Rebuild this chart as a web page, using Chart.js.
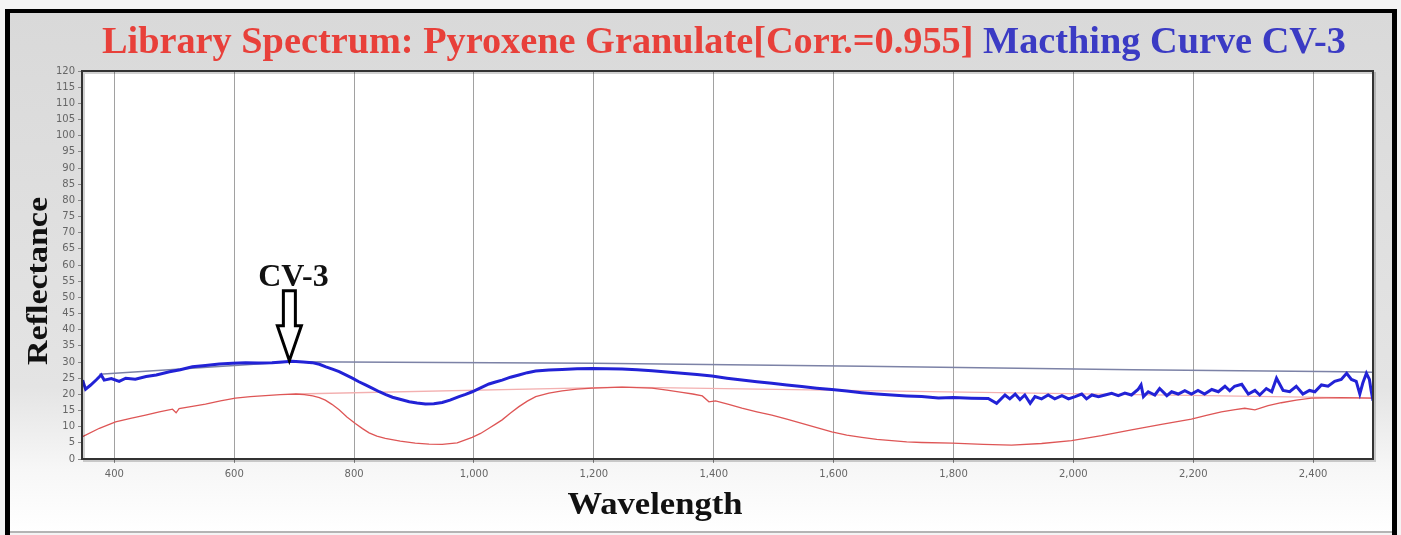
<!DOCTYPE html>
<html>
<head>
<meta charset="utf-8">
<script src="https://cdn.jsdelivr.net/npm/chart.js@4.4.1/dist/chart.umd.min.js"></script>
<style>
  html, body { margin: 0; padding: 0; background: #ffffff; }
  canvas { display: block; }
</style>
</head>
<body>
<canvas id="myChart" width="1401" height="535"></canvas>
<script>
// Matching curve CV-3 (blue, thick)
const matchWl = [
  347, 352, 360, 370, 378, 383, 395, 408, 419, 435,
  453, 470, 492, 510, 530, 552, 575, 597, 619, 640,
  663, 680, 697, 715, 730, 742, 753, 765, 775, 786,
  797, 808, 819, 830, 842, 853, 864, 878, 892, 905,
  919, 933, 947, 960, 975, 986, 997, 1011, 1025, 1036,
  1047, 1061, 1075, 1089, 1103, 1125, 1147, 1172, 1197, 1222,
  1247, 1272, 1297, 1322, 1347, 1372, 1397, 1422, 1447, 1472,
  1497, 1522, 1547, 1572, 1597, 1622, 1647, 1672, 1697, 1722,
  1747, 1775, 1800, 1830, 1858, 1872, 1886, 1894, 1903, 1911,
  1919, 1928, 1936, 1947, 1958, 1969, 1981, 1992, 2003, 2014,
  2022, 2031, 2042, 2053, 2064, 2075, 2086, 2097, 2108, 2113,
  2117, 2125, 2136, 2144, 2156, 2164, 2175, 2186, 2197, 2208,
  2219, 2231, 2242, 2253, 2261, 2269, 2281, 2292, 2303, 2311,
  2322, 2331, 2339, 2350, 2361, 2372, 2383, 2394, 2403, 2414,
  2425, 2436, 2447, 2456, 2464, 2472, 2478, 2483, 2489, 2494,
  2497, 2500
];
const matchRefl = [
  24.4, 21.6, 22.8, 24.5, 26.0, 24.4, 24.9, 24.0, 25.0, 24.7,
  25.5, 26.0, 27.0, 27.6, 28.5, 28.9, 29.4, 29.6, 29.8, 29.7,
  29.8, 30.0, 30.2, 30.0, 29.8, 29.3, 28.5, 27.7, 27.0, 26.0,
  25.0, 23.9, 22.9, 21.9, 20.8, 19.9, 19.1, 18.4, 17.7, 17.3,
  17.0, 17.1, 17.5, 18.2, 19.3, 20.0, 20.8, 22.0, 23.2, 23.8,
  24.4, 25.3, 26.0, 26.7, 27.2, 27.5, 27.7, 27.9, 28.0, 27.9,
  27.8, 27.6, 27.3, 26.9, 26.5, 26.1, 25.7, 25.0, 24.4, 23.9,
  23.4, 22.9, 22.4, 21.9, 21.5, 21.0, 20.5, 20.1, 19.8, 19.5,
  19.3, 18.9, 19.0, 18.8, 18.7, 17.2, 19.8, 18.6, 20.1, 18.4,
  19.8, 17.2, 19.3, 18.6, 19.8, 18.6, 19.6, 18.6, 19.3, 20.1,
  18.6, 19.8, 19.3, 19.8, 20.3, 19.6, 20.4, 19.8, 21.5, 22.9,
  19.3, 20.8, 19.8, 21.8, 19.6, 20.8, 20.1, 21.1, 20.1, 21.2,
  20.1, 21.5, 20.8, 22.5, 21.1, 22.5, 23.1, 20.1, 21.2, 19.8,
  21.8, 20.8, 25.0, 21.2, 20.8, 22.5, 20.1, 21.2, 20.8, 22.9,
  22.5, 24.0, 24.6, 26.5, 24.6, 24.0, 20.1, 23.5, 26.5, 24.6,
  21.0, 18.0
];

// Library spectrum: Pyroxene Granulate (red, thin)
const libWl = [
  347, 375, 402, 427, 452, 475, 497, 503, 508, 530,
  552, 577, 602, 627, 652, 677, 702, 717, 731, 742,
  752, 763, 775, 788, 802, 814, 825, 838, 852, 877,
  902, 925, 947, 972, 997, 1011, 1025, 1036, 1047, 1061,
  1075, 1089, 1103, 1125, 1147, 1172, 1197, 1222, 1247, 1272,
  1297, 1322, 1347, 1365, 1381, 1392, 1403, 1425, 1447, 1472,
  1497, 1522, 1547, 1572, 1597, 1622, 1647, 1672, 1697, 1722,
  1747, 1798, 1850, 1897, 1947, 1997, 2047, 2097, 2147, 2197,
  2222, 2247, 2270, 2286, 2303, 2325, 2347, 2372, 2397, 2422,
  2447, 2472, 2500
];
const libRefl = [
  6.9, 9.5, 11.5, 12.6, 13.6, 14.6, 15.4, 14.3, 15.6, 16.3,
  17.0, 18.0, 18.8, 19.3, 19.6, 19.9, 20.1, 19.9, 19.5, 19.0,
  18.2, 16.9, 15.2, 13.0, 11.0, 9.4, 8.1, 7.1, 6.4, 5.5,
  4.9, 4.6, 4.5, 5.0, 6.7, 7.9, 9.5, 10.8, 12.1, 14.2,
  16.2, 17.9, 19.3, 20.4, 21.1, 21.6, 21.9, 22.1, 22.2, 22.1,
  21.9, 21.3, 20.6, 20.1, 19.5, 17.7, 18.0, 16.9, 15.7, 14.6,
  13.6, 12.3, 11.0, 9.7, 8.4, 7.4, 6.7, 6.1, 5.7, 5.3,
  5.1, 4.9, 4.5, 4.3, 4.8, 5.7, 7.2, 9.0, 10.7, 12.3,
  13.5, 14.6, 15.3, 15.7, 15.2, 16.5, 17.4, 18.2, 18.8, 18.9,
  19.0, 18.9, 18.8
];

// continuum hulls
const matchHullWl = [375, 697, 1200, 1650, 2100, 2456, 2500];
const matchHullRefl = [26.2, 30.1, 29.6, 28.7, 27.6, 27.0, 26.8];
const libHullWl = [702, 1247, 2447, 2500];
const libHullRefl = [20.1, 22.2, 19.0, 18.8];

const xTicks = [400, 600, 800, 1000, 1200, 1400, 1600, 1800, 2000, 2200, 2400];

// CV-3 arrow points at this spot
const cv3Wl = 692;
const cv3Refl = 30.1;

function toPoints(xs, ys) {
  return xs.map((x, i) => ({ x: x, y: ys[i] }));
}

const serif = '"Liberation Serif", "Times New Roman", serif';

const decorations = {
  id: 'decorations',
  beforeDraw(chart) {
    const ctx = chart.ctx;
    const W = chart.width, H = chart.height;
    const a = chart.chartArea;
    ctx.save();
    ctx.fillStyle = '#f4f4f4';
    ctx.fillRect(0, 0, W, H);
    // gray panel fading to white
    const g = ctx.createLinearGradient(0, 12, 0, 532);
    g.addColorStop(0, '#d9d9d9');
    g.addColorStop(0.72, '#e4e4e4');
    g.addColorStop(0.88, '#f7f7f7');
    g.addColorStop(1, '#ffffff');
    ctx.fillStyle = g;
    ctx.fillRect(8, 11, 1386, 521);
    // black frame
    ctx.fillStyle = '#000';
    ctx.fillRect(5, 9, 5, 526);
    ctx.fillRect(5, 9, 1392, 4);
    ctx.fillRect(1392, 9, 5, 526);
    ctx.fillStyle = '#b4b4b4';
    ctx.fillRect(10, 531, 1382, 2);
    // plot area
    ctx.fillStyle = '#ffffff';
    ctx.fillRect(a.left, a.top, a.right - a.left, a.bottom - a.top);
    ctx.restore();
  },
  afterDraw(chart) {
    const ctx = chart.ctx;
    const a = chart.chartArea;
    const xs = chart.scales.x, ys = chart.scales.y;
    ctx.save();

    // plot border with soft shadow
    ctx.strokeStyle = 'rgba(0,0,0,0.18)';
    ctx.lineWidth = 2;
    ctx.strokeRect(a.left + 2, a.top + 2, a.right - a.left, a.bottom - a.top);
    ctx.strokeStyle = '#333';
    ctx.lineWidth = 2;
    ctx.strokeRect(a.left, a.top, a.right - a.left, a.bottom - a.top);

    // two-colour title
    const p1 = 'Library Spectrum: Pyroxene Granulate[Corr.=0.955] ';
    const p2 = 'Macthing Curve CV-3';
    ctx.font = 'bold 38px ' + serif;
    ctx.textBaseline = 'alphabetic';
    ctx.textAlign = 'left';
    const w1 = ctx.measureText(p1).width;
    const w2 = ctx.measureText(p2).width;
    const sx = 1244 / (w1 + w2);
    ctx.save();
    ctx.translate(102, 53);
    ctx.scale(sx, 1);
    ctx.fillStyle = '#e8403a';
    ctx.fillText(p1, 0, 0);
    ctx.fillStyle = '#3b3bc4';
    ctx.fillText(p2, w1, 0);
    ctx.restore();

    // axis titles
    ctx.fillStyle = '#111';
    ctx.font = 'bold 31px ' + serif;
    ctx.textAlign = 'center';
    const ww = ctx.measureText('Wavelength').width;
    ctx.save();
    ctx.translate(655, 514);
    ctx.scale(175 / ww, 1);
    ctx.fillText('Wavelength', 0, 0);
    ctx.restore();

    ctx.font = 'bold 30px ' + serif;
    const rw = ctx.measureText('Reflectance').width;
    ctx.save();
    ctx.translate(47, 281);
    ctx.rotate(-Math.PI / 2);
    ctx.scale(168 / rw, 1);
    ctx.fillText('Reflectance', 0, 0);
    ctx.restore();

    // CV-3 label and hollow arrow
    const tx = xs.getPixelForValue(cv3Wl);
    const ty = ys.getPixelForValue(cv3Refl);
    ctx.font = 'bold 32px ' + serif;
    ctx.fillStyle = '#111';
    ctx.fillText('CV-3', tx + 4, ty - 76);
    ctx.beginPath();
    ctx.moveTo(tx - 6, ty - 71);
    ctx.lineTo(tx + 6, ty - 71);
    ctx.lineTo(tx + 6, ty - 36);
    ctx.lineTo(tx + 12, ty - 36);
    ctx.lineTo(tx, ty - 1);
    ctx.lineTo(tx - 12, ty - 36);
    ctx.lineTo(tx - 6, ty - 36);
    ctx.closePath();
    ctx.fillStyle = '#fff';
    ctx.fill();
    ctx.strokeStyle = '#000';
    ctx.lineWidth = 3;
    ctx.lineJoin = 'miter';
    ctx.stroke();

    ctx.restore();
  }
};

const ctx = document.getElementById('myChart').getContext('2d');
const myChart = new Chart(ctx, {
  type: 'line',
  data: {
    datasets: [
      {
        label: 'Macthing Curve CV-3',
        data: toPoints(matchWl, matchRefl),
        borderColor: '#2222d6',
        borderWidth: 3,
        pointRadius: 0,
        tension: 0
      },
      {
        label: 'Library Spectrum: Pyroxene Granulate',
        data: toPoints(libWl, libRefl),
        borderColor: '#de5656',
        borderWidth: 1.3,
        pointRadius: 0,
        tension: 0
      },
      {
        label: 'CV-3 hull',
        data: toPoints(matchHullWl, matchHullRefl),
        borderColor: '#7c82a6',
        borderWidth: 1.5,
        pointRadius: 0,
        tension: 0
      },
      {
        label: 'Library hull',
        data: toPoints(libHullWl, libHullRefl),
        borderColor: '#f3b0b0',
        borderWidth: 1.3,
        pointRadius: 0,
        tension: 0
      }
    ]
  },
  options: {
    responsive: false,
    devicePixelRatio: 1,
    animation: false,
    layout: { padding: { left: 0, top: 71, right: 28, bottom: 0 } },
    plugins: {
      legend: { display: false },
      title: { display: false },
      tooltip: { enabled: false }
    },
    scales: {
      x: {
        type: 'linear',
        min: 346,
        max: 2500,
        afterBuildTicks: (scale) => {
          scale.ticks = xTicks.map(v => ({ value: v }));
        },
        afterFit: (scale) => { scale.height = 76; },
        grid: {
          color: 'rgba(130,130,130,0.75)',
          lineWidth: 1,
          tickLength: 4,
          tickColor: '#888'
        },
        border: { display: false },
        ticks: {
          padding: 5,
          maxRotation: 0,
          color: '#666',
          font: { family: '"DejaVu Sans", Verdana, sans-serif', size: 10 },
          callback: (v) => v.toLocaleString('en-US')
        }
      },
      y: {
        min: 0,
        max: 120,
        afterFit: (scale) => { scale.width = 82; },
        grid: {
          drawOnChartArea: false,
          tickLength: 4,
          tickColor: '#888'
        },
        border: { display: false },
        ticks: {
          stepSize: 5,
          autoSkip: false,
          padding: 3,
          color: '#666',
          font: { family: '"DejaVu Sans", Verdana, sans-serif', size: 10 }
        }
      }
    }
  },
  plugins: [decorations]
});
</script>
</body>
</html>
